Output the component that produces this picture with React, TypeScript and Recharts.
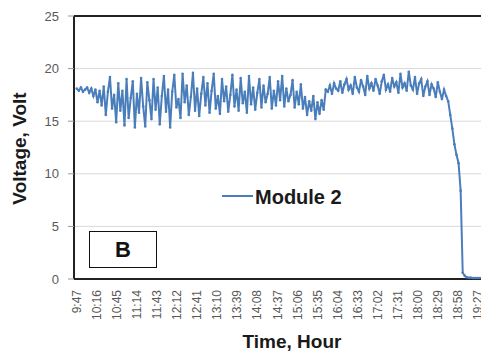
import React from "react"
import { LineChart, Line, XAxis, YAxis, CartesianGrid, ReferenceLine } from "recharts"

// first reading at 9:47, one reading every 3 minutes
const START_MIN = 587
const STEP_MIN = 3

const module2Volts = [
  18.1, 17.9, 18.2, 17.8, 18.0, 18.2, 17.7, 18.1, 17.4, 18.0,
  16.8, 17.9, 16.5, 18.3, 15.6, 17.8, 19.2, 16.2, 17.5, 14.9,
  18.6, 16.0, 17.9, 14.6, 19.0, 15.3, 17.2, 18.8, 14.4, 17.6,
  15.8, 19.1, 16.4, 14.5, 18.7, 17.0, 15.2, 19.0, 16.1, 18.2,
  14.7, 17.4, 19.3, 15.9, 18.0, 14.4, 17.8, 19.4, 16.3, 17.1,
  15.3, 19.5, 16.8, 18.4, 15.6, 17.3, 19.6, 16.0, 18.1, 15.5,
  17.6, 19.2, 16.5, 18.6, 15.8, 17.9, 19.5, 16.2, 17.4, 15.7,
  19.0, 16.9, 18.3, 15.9, 17.5, 19.4, 16.4, 18.0, 16.0, 19.1,
  16.7, 17.8, 15.8, 19.3, 16.6, 18.2, 16.1, 17.7, 19.0, 16.3,
  18.4, 16.8, 17.6, 19.2, 16.2, 17.9, 16.5, 18.8, 17.0, 19.3,
  16.4, 18.1, 16.9, 17.5, 18.9, 16.3, 17.8, 16.6, 18.5, 16.2,
  17.3, 15.6, 16.9, 16.0, 17.4, 15.2, 16.8, 15.7, 17.0, 16.1,
  18.0, 17.8, 18.4, 17.6, 18.6, 18.1, 17.9, 18.8, 17.7, 18.5,
  19.0, 18.0, 18.4, 17.6, 19.2, 18.2, 17.8, 18.9, 18.3, 17.5,
  19.3, 18.1, 18.6, 17.9, 19.0, 18.4, 17.6, 18.8, 19.4, 18.0,
  18.5, 17.8, 19.1, 18.3, 18.7, 17.7, 19.5, 18.2, 18.6, 17.9,
  19.7, 18.4, 18.0, 19.2, 17.6, 18.6, 19.0, 17.4, 18.3, 18.8,
  17.5, 18.5, 18.1, 17.3, 18.7, 17.8, 17.1, 18.0, 17.4, 16.9,
  15.6, 14.3, 12.8, 11.8, 11.0, 8.4, 0.6, 0.3, 0.15, 0.12,
  0.12, 0.1, 0.1, 0.1, 0.1, 0.1, 0.1, 0.1, 0.1,
]

const timeTicks = [
  "9:47", "10:16", "10:45", "11:14", "11:43", "12:12", "12:41", "13:10", "13:39", "14:08",
  "14:37", "15:06", "15:35", "16:04", "16:33", "17:02", "17:31", "18:00", "18:29", "18:58", "19:27",
]

const voltTicks = [0, 5, 10, 15, 20, 25]

const toMinutes = (s: string) => {
  const [h, m] = s.split(":").map(Number)
  return h * 60 + m
}

const data = module2Volts.map((v, i) => ({ t: START_MIN + i * STEP_MIN, v }))
const tickMinutes = timeTicks.map(toMinutes)

const fmtTime = (m: number) => `${Math.floor(m / 60)}:${String(m % 60).padStart(2, "0")}`

const LINE_COLOR = "#4a7ebb"
const FONT = "'Liberation Sans', Arial, sans-serif"

const TimeTick = (props: any) => {
  const { x, payload } = props
  const y = 271 + 11
  return (
    <text
      x={x}
      y={y}
      transform={`rotate(-90, ${x}, ${y})`}
      textAnchor="end"
      dy="0.35em"
      fill="#595959"
      fontSize={12}
      fontFamily={FONT}
    >
      {fmtTime(payload.value)}
    </text>
  )
}

export default function App() {
  return (
    <div style={{ position: "relative", width: 481, height: 345, fontFamily: FONT }}>
      <LineChart width={481} height={345} data={data} margin={{ top: 8, right: 0, bottom: 34, left: 6 }}>
        <CartesianGrid horizontal vertical={false} stroke="#d9d9d9" />
        <XAxis
          dataKey="t"
          type="number"
          domain={[583, 1183]}
          ticks={tickMinutes}
          interval={0}
          height={40}
          axisLine={{ stroke: "#222", strokeWidth: 2 }}
          tickLine={false}
          tick={<TimeTick />}
          allowDataOverflow
        />
        <YAxis
          domain={[0, 25]}
          ticks={voltTicks}
          width={60}
          axisLine={{ stroke: "#222", strokeWidth: 2 }}
          tickLine={{ stroke: "#999" }}
          tickSize={6}
          tickMargin={9}
          tick={{ fill: "#595959", fontSize: 13, fontFamily: FONT }}
        />
        <ReferenceLine y={25} stroke="#222" strokeWidth={2} />
        <Line
          type="linear"
          dataKey="v"
          stroke={LINE_COLOR}
          strokeWidth={2}
          dot={{ r: 1.3, fill: LINE_COLOR, stroke: "none" }}
          isAnimationActive={false}
        />
      </LineChart>

      {/* legend */}
      <div style={{ position: "absolute", left: 214, top: 187, width: 31, height: 2, background: LINE_COLOR }} />
      <div
        style={{
          position: "absolute",
          left: 247,
          top: 178,
          fontSize: 20,
          lineHeight: "22px",
          fontWeight: "bold",
          color: "#1a1a1a",
          whiteSpace: "nowrap",
        }}
      >
        Module 2
      </div>

      {/* panel label */}
      <div
        style={{
          position: "absolute",
          left: 81,
          top: 223,
          width: 66,
          height: 35,
          border: "1.5px solid #111",
          display: "flex",
          alignItems: "center",
          justifyContent: "center",
          fontSize: 22,
          fontWeight: "bold",
          color: "#111",
        }}
      >
        B
      </div>

      {/* axis titles */}
      <div
        style={{
          position: "absolute",
          left: 184,
          top: 324,
          width: 200,
          textAlign: "center",
          fontSize: 19,
          lineHeight: "19px",
          fontWeight: "bold",
          color: "#1a1a1a",
          whiteSpace: "nowrap",
        }}
      >
        Time, Hour
      </div>
      <div
        style={{
          position: "absolute",
          left: 11.4 - 100,
          top: 140 - 9.5,
          width: 200,
          height: 19,
          textAlign: "center",
          fontSize: 19,
          lineHeight: "19px",
          fontWeight: "bold",
          color: "#1a1a1a",
          whiteSpace: "nowrap",
          transform: "rotate(-90deg)",
        }}
      >
        Voltage, Volt
      </div>
    </div>
  )
}
